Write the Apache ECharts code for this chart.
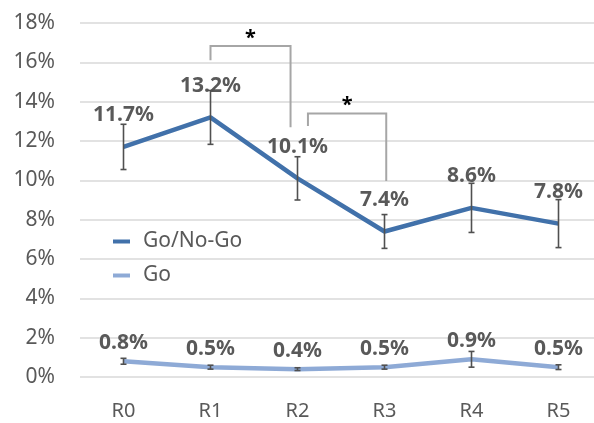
<!DOCTYPE html>
<html><head><meta charset="utf-8">
<script src="https://cdn.jsdelivr.net/npm/echarts@6/dist/echarts.min.js"></script>
<style>html,body{margin:0;padding:0;background:#fff}#c{width:594px;height:423px}</style>
</head><body><div id="c"></div>
<script>
const categories = ['R0','R1','R2','R3','R4','R5'];
const goNoGo = [11.7, 13.2, 10.1, 7.4, 8.6, 7.8];
const goNoGoErr = [1.15, 1.37, 1.1, 0.86, 1.25, 1.22];
const go = [0.8, 0.5, 0.4, 0.5, 0.9, 0.5];
const goErr = [0.15, 0.1, 0.07, 0.1, 0.4, 0.12];
// significance brackets: [x-left (category units), x-right, y left end, y top, y right end]
const brackets = [
  [1.0, 1.92, 16.1, 16.83, 12.7],
  [2.12, 3.02, 12.76, 13.4, 9.96]
];
const yTicks = {min: 0, max: 18, interval: 2};

const FONT = '"Noto Sans", "Open Sans", sans-serif';
const TXT = '#595959';
const C1 = '#4171aa';
const C2 = '#8eaad6';

function errSeries(vals, errs) {
  return {
    type: 'custom', silent: true, z: 5,
    data: vals.map((v, i) => [i, v - errs[i], v + errs[i]]),
    renderItem: function (params, api) {
      const lo = api.coord([api.value(0), api.value(1)]);
      const hi = api.coord([api.value(0), api.value(2)]);
      const w = 3;
      const st = {stroke: '#505050', lineWidth: 1.6};
      return {type: 'group', children: [
        {type: 'line', shape: {x1: lo[0], y1: lo[1], x2: hi[0], y2: hi[1]}, style: st},
        {type: 'line', shape: {x1: lo[0]-w, y1: lo[1], x2: lo[0]+w, y2: lo[1]}, style: st},
        {type: 'line', shape: {x1: hi[0]-w, y1: hi[1], x2: hi[0]+w, y2: hi[1]}, style: st}
      ]};
    }
  };
}

function xAt(api, x) {
  const i = Math.floor(x);
  const p0 = api.coord([i, 0])[0];
  const p1 = api.coord([i + 1 <= 5 ? i + 1 : i - 1, 0])[0];
  const bw = i + 1 <= 5 ? (p1 - p0) : (p0 - p1);
  return p0 + (x - i) * bw;
}

const lbl = {fontFamily: FONT, fontSize: 21, fontWeight: 'bold', color: TXT,
  formatter: p => p.value.toFixed(1) + '%'};

const option = {
  animation: false,
  grid: {left: 80, top: 23, width: 522, bottom: 46, containLabel: false, outerBoundsMode: 'none'},
  legend: {
    data: ['Go/No-Go', 'Go'], orient: 'vertical', left: 108, top: 226,
    icon: 'rect', itemWidth: 17, itemHeight: 4, itemGap: 13,
    textStyle: {fontFamily: FONT, fontSize: 21, color: TXT, padding: [0, 0, 0, 8]}
  },
  xAxis: {
    type: 'category', data: categories,
    axisLine: {show: false}, axisTick: {show: false},
    axisLabel: {fontFamily: FONT, fontSize: 20, color: TXT, margin: 24}
  },
  yAxis: {
    type: 'value', min: yTicks.min, max: yTicks.max, interval: yTicks.interval,
    axisLine: {show: false}, axisTick: {show: false},
    splitLine: {lineStyle: {color: '#d9d9d9', width: 1.5}},
    axisLabel: {formatter: '{value}%', fontFamily: FONT, fontSize: 21, color: TXT, margin: 25}
  },
  series: [
    {
      name: 'Go/No-Go', type: 'line', data: goNoGo, showSymbol: true, symbol: 'circle', symbolSize: 0.1,
      lineStyle: {color: C1, width: 4.5}, itemStyle: {color: C1}, z: 3,
      label: Object.assign({show: true, position: 'top', distance: 21}, lbl)
    },
    {
      name: 'Go', type: 'line', data: go, showSymbol: true, symbol: 'circle', symbolSize: 0.1,
      lineStyle: {color: C2, width: 4.5}, itemStyle: {color: C2}, z: 3,
      label: Object.assign({show: true, position: 'top', distance: 8}, lbl)
    },
    errSeries(goNoGo, goNoGoErr),
    errSeries(go, goErr),
    {
      type: 'custom', silent: true, z: 4,
      data: brackets,
      renderItem: function (params, api) {
        const xl = xAt(api, api.value(0));
        const xr = xAt(api, api.value(1));
        const yl = api.coord([0, api.value(2)])[1];
        const yt = api.coord([0, api.value(3)])[1];
        const yr = api.coord([0, api.value(4)])[1];
        return {type: 'group', children: [
          {type: 'polyline', shape: {points: [[xl, yl], [xl, yt], [xr, yt], [xr, yr]]},
           style: {stroke: '#a6a6a6', lineWidth: 2, fill: 'none'}},
          {type: 'text', x: (xl + xr) / 2, y: yt - 8,
           style: {text: '*', fill: '#000', font: 'bold 20px ' + FONT, textAlign: 'center', textVerticalAlign: 'middle'}}
        ]};
      }
    }
  ]
};
echarts.init(document.getElementById('c')).setOption(option);
</script></body></html>
